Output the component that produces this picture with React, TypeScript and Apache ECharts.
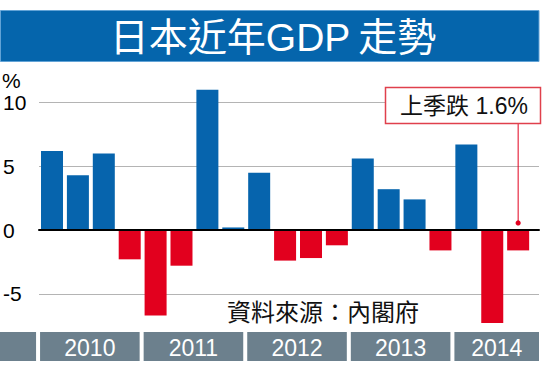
import React, { useEffect, useRef } from "react";
import * as echarts from "echarts";

const quarters = [
  "2010Q1", "2010Q2", "2010Q3", "2010Q4",
  "2011Q1", "2011Q2", "2011Q3", "2011Q4",
  "2012Q1", "2012Q2", "2012Q3", "2012Q4",
  "2013Q1", "2013Q2", "2013Q3", "2013Q4",
  "2014Q1", "2014Q2", "2014Q3",
];
const gdpGrowth = [
  6.2, 4.3, 6.0, -2.3,
  -6.7, -2.8, 11.0, 0.2,
  4.5, -2.4, -2.2, -1.2,
  5.6, 3.2, 2.4, -1.6,
  6.7, -7.3, -1.6,
];
const years = ["2010", "2011", "2012", "2013", "2014"];
const quartersPerYear = 4;
const titleText = "日本近年GDP\u2009走勢";
const calloutText = "上季跌 1.6%";
const sourceText = "資料來源：內閣府";
const unitText = "%";

const BLUE = "#0664AD";
const RED = "#E2001E";
const GRAY_BAND = "#6C808D";
const LATIN = "'Liberation Sans', Arial, 'Noto Sans CJK TC', sans-serif";
const CJK = "'Noto Sans CJK TC', 'Noto Sans CJK SC', sans-serif";

export default function App() {
  const ref = useRef<HTMLDivElement>(null);

  useEffect(() => {
    if (!ref.current) return;
    const chart = echarts.init(ref.current, undefined, { renderer: "svg" });
    chart.setOption({
      animation: false,
      backgroundColor: "#ffffff",
      grid: [
        { left: 36, right: 4, top: 102.5, height: 191.25 },
        { left: 39.06, right: 11.9, top: 77, height: 255 },
      ],
      xAxis: [
        {
          gridIndex: 0,
          type: "value",
          min: 0,
          max: 1,
          z: 5,
          axisLine: { show: true, onZero: true, lineStyle: { color: "#000", width: 2 } },
          axisTick: { show: false },
          axisLabel: { show: false },
          splitLine: { show: false },
        },
        {
          gridIndex: 1,
          type: "category",
          data: quarters,
          show: false,
        },
      ],
      yAxis: [
        {
          gridIndex: 0,
          type: "value",
          min: -5,
          max: 10,
          interval: 5,
          axisLine: { show: false },
          axisTick: { show: false },
          axisLabel: {
            margin: 36,
            align: "left",
            fontSize: 21,
            color: "#000",
            fontFamily: LATIN,
          },
          splitLine: { show: true, lineStyle: { color: "#B4B4B4", width: 1 } },
        },
        {
          gridIndex: 1,
          type: "value",
          min: -8,
          max: 12,
          show: false,
          splitLine: { show: false },
        },
      ],
      series: [
        {
          type: "bar",
          xAxisIndex: 1,
          yAxisIndex: 1,
          barWidth: 22,
          data: gdpGrowth,
          itemStyle: {
            color: (p: any) => (p.value < 0 ? RED : BLUE),
          },
        },
      ],
    });

    const px = (i: number, v: number) =>
      chart.convertToPixel({ gridIndex: 1 } as any, [i, v]) as number[];
    const c0 = px(0, 0);
    const c1 = px(1, 0);
    const pitch = c1[0] - c0[0];
    const leftEdge = (i: number) => c0[0] + (i - 0.5) * pitch;
    const rightLimit = 539;
    const bandTop = 332;
    const bandH = 29;

    const elements: any[] = [];
    elements.push({
      type: "rect",
      z: 100,
      shape: { x: 0.5, y: 10.5, width: 538.5, height: 51 },
      style: { fill: "#0565AC", stroke: "#62A3D6", lineWidth: 1 },
    });
    elements.push({
      type: "text",
      z: 101,
      x: 273,
      y: 37,
      style: {
        text: titleText,
        fill: "#fff",
        fontSize: 39,
        fontFamily: LATIN,
        align: "center",
        verticalAlign: "middle",
      },
    });
    elements.push({
      type: "text",
      z: 101,
      x: 2,
      y: 80,
      style: { text: unitText, fill: "#000", fontSize: 21, fontFamily: LATIN, verticalAlign: "middle" },
    });
    elements.push({
      type: "rect",
      z: 100,
      shape: { x: 0, y: bandTop, width: leftEdge(0) - 3, height: bandH },
      style: { fill: GRAY_BAND },
    });
    years.forEach((y, k) => {
      const x0 = leftEdge(k * quartersPerYear) + 1;
      const x1 = Math.min(leftEdge((k + 1) * quartersPerYear) - 3, rightLimit);
      elements.push({
        type: "rect",
        z: 100,
        shape: { x: x0, y: bandTop, width: x1 - x0, height: bandH },
        style: { fill: GRAY_BAND },
      });
      elements.push({
        type: "text",
        z: 101,
        x: (x0 + x1) / 2,
        y: bandTop + bandH / 2 + 1,
        style: {
          text: y,
          fill: "#fff",
          fontSize: 23,
          fontFamily: LATIN,
          align: "center",
          verticalAlign: "middle",
        },
      });
    });
    elements.push({
      type: "text",
      z: 101,
      x: 227,
      y: 310,
      style: { text: sourceText, fill: "#111", fontSize: 24, fontFamily: CJK, verticalAlign: "middle" },
    });
    const last = gdpGrowth.length - 1;
    const dot = px(last, 0.55);
    const boxBottom = 123.5;
    elements.push({
      type: "line",
      z: 100,
      shape: { x1: dot[0], y1: boxBottom, x2: dot[0], y2: dot[1] },
      style: { stroke: RED, lineWidth: 1 },
    });
    elements.push({
      type: "circle",
      z: 101,
      shape: { cx: dot[0], cy: dot[1], r: 2.6 },
      style: { fill: RED },
    });
    elements.push({
      type: "rect",
      z: 100,
      shape: { x: 385.5, y: 87.5, width: 155, height: 36 },
      style: { fill: "#fff", stroke: "#E0404C", lineWidth: 1.5 },
    });
    elements.push({
      type: "text",
      z: 101,
      x: 464,
      y: 106,
      style: {
        text: calloutText,
        fill: "#111",
        fontSize: 23,
        fontFamily: LATIN,
        align: "center",
        verticalAlign: "middle",
      },
    });

    chart.setOption({ graphic: { elements } });

    return () => chart.dispose();
  }, []);

  return (
    <div
      ref={ref}
      style={{ position: "fixed", left: 0, top: 0, width: 543, height: 365, background: "#fff" }}
    />
  );
}
